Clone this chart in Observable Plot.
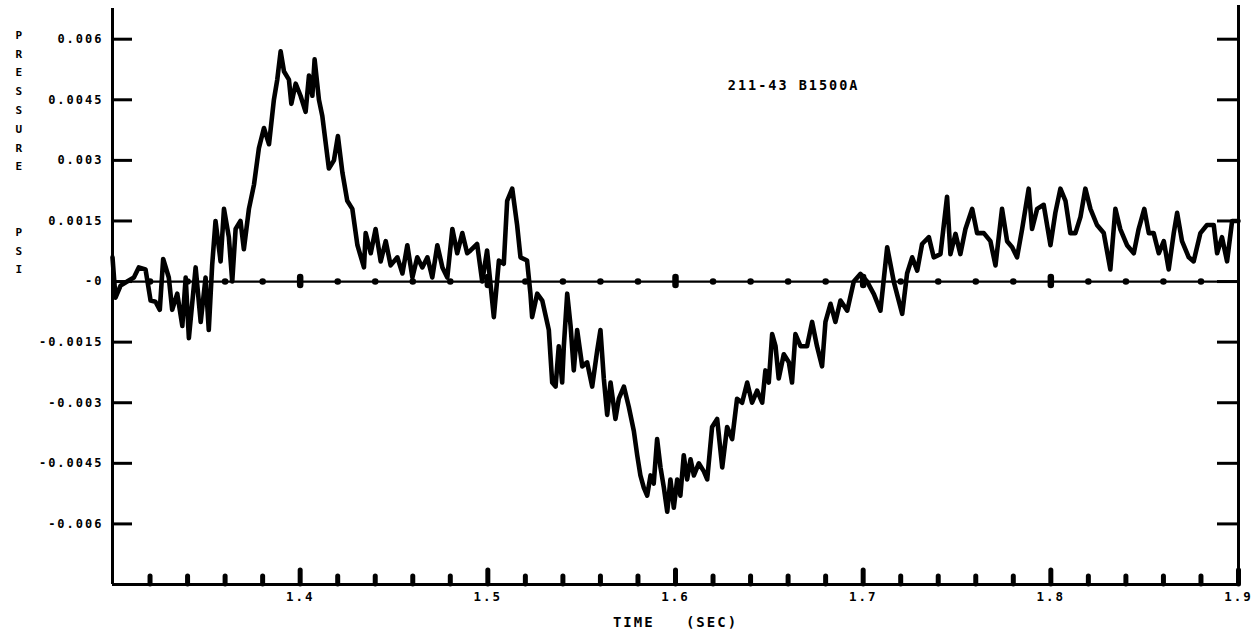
<!DOCTYPE html>
<html>
<head>
<meta charset="utf-8">
<script src="https://cdn.jsdelivr.net/npm/d3@7"></script>
<script src="https://cdn.jsdelivr.net/npm/@observablehq/plot@0.6"></script>
<style>
  html, body { margin: 0; padding: 0; background: #fff; }
  #chart svg { display: block; }
  #chart svg text { letter-spacing: 2px; }
</style>
</head>
<body>
<div id="chart"></div>
<script>
// ---- data ----
const timeSec = [
  1.3000,1.3016,1.3043,1.3078,1.3114,1.3140,1.3176,1.3203,1.3229,1.3252,1.3270,1.3300,1.3318,1.3345,1.3372,1.3390,
  1.3407,1.3443,1.3470,1.3496,1.3513,1.3531,1.3549,1.3576,1.3594,1.3620,1.3638,1.3656,1.3682,1.3700,1.3727,1.3754,
  1.3780,1.3807,1.3834,1.3860,1.3878,1.3896,1.3914,1.3940,1.3953,1.3976,1.4002,1.4029,1.4047,1.4065,1.4077,1.4100,
  1.4118,1.4153,1.4180,1.4201,1.4225,1.4251,1.4278,1.4305,1.4340,1.4349,1.4376,1.4402,1.4429,1.4456,1.4482,1.4518,
  1.4545,1.4571,1.4598,1.4624,1.4651,1.4678,1.4704,1.4731,1.4758,1.4784,1.4811,1.4837,1.4864,1.4890,
  1.4908,1.4943,1.4970,1.4996,1.5032,1.5059,1.5085,1.5103,1.5130,1.5156,1.5174,1.5209,1.5227,1.5236,1.5263,1.5290,
  1.5325,1.5343,1.5361,1.5378,1.5396,1.5405,1.5423,1.5441,1.5458,1.5476,1.5503,1.5529,1.5556,1.5583,1.5600,1.5618,
  1.5636,1.5654,1.5680,1.5698,1.5725,1.5751,1.5778,1.5796,1.5813,1.5831,1.5849,1.5867,1.5884,1.5902,1.5920,1.5938,
  1.5956,1.5973,1.5991,1.6009,1.6026,1.6044,1.6062,1.6080,1.6098,1.6124,1.6151,1.6169,1.6195,1.6222,1.6249,1.6275,
  1.6302,1.6328,1.6355,1.6382,1.6408,1.6435,1.6462,1.6479,1.6497,1.6515,1.6533,1.6550,1.6577,1.6604,1.6621,1.6639,
  1.6666,1.6701,1.6728,1.6754,1.6781,1.6799,1.6826,1.6852,
  1.6879,1.6915,1.6950,1.6986,1.7021,1.7057,1.7092,1.7128,1.7163,1.7208,1.7234,1.7261,1.7288,1.7314,1.7350,1.7376,
  1.7412,1.7447,1.7465,1.7492,1.7518,1.7545,1.7581,1.7607,1.7643,1.7678,1.7705,1.7740,1.7767,1.7794,1.7820,1.7847,
  1.7882,1.7900,1.7927,1.7962,1.7998,1.8024,1.8051,1.8078,1.8104,1.8131,1.8158,1.8184,1.8211,1.8246,1.8282,1.8317,
  1.8344,1.8370,1.8406,1.8442,1.8468,1.8498,1.8522,1.8548,1.8575,1.8602,1.8628,1.8655,1.8673,1.8699,1.8735,1.8761,
  1.8797,1.8832,1.8868,1.8886,1.8912,1.8939,1.8966,1.8983,1.9000
];
const pressurePsi = [
  0.0006,-0.0004,-0.0001,0.0000,0.0001,0.00035,0.0003,-0.00047,-0.0005,-0.0007,0.00056,0.0001,-0.0007,-0.0003,-0.0011,0.0001,
  -0.0014,0.00035,-0.0010,0.0001,-0.0012,0.0004,0.0015,0.0005,0.0018,0.0011,0.0000,0.0013,0.0015,0.0008,0.0018,0.0024,
  0.0033,0.0038,0.0034,0.0045,0.0050,0.0057,0.0052,0.0050,0.0044,0.0049,0.0046,0.0042,0.0051,0.0046,0.0055,0.0045,
  0.0041,0.0028,0.0030,0.0036,0.0027,0.0020,0.0018,0.0009,0.00035,0.0012,0.0007,0.0013,0.0005,0.0010,0.0004,0.0006,
  0.0002,0.0009,0.0001,0.0006,0.00035,0.0006,0.0001,0.0009,0.00035,0.0001,0.0013,0.0007,0.0012,0.0007,
  0.00077,0.00093,0.0000,0.00077,-0.00088,0.00052,0.00044,0.0020,0.0023,0.0014,0.0006,0.00052,-0.0003,-0.00088,-0.0003,-0.00047,
  -0.0012,-0.0025,-0.0026,-0.0016,-0.0025,-0.0016,-0.0003,-0.0011,-0.0022,-0.0012,-0.0021,-0.0020,-0.0026,-0.0017,-0.0012,-0.0024,
  -0.0033,-0.0025,-0.0034,-0.0029,-0.0026,-0.0031,-0.0037,-0.0043,-0.0048,-0.0051,-0.0053,-0.0048,-0.0050,-0.0039,-0.0046,-0.0051,
  -0.0057,-0.0049,-0.0056,-0.0049,-0.0053,-0.0043,-0.0049,-0.0044,-0.0048,-0.0045,-0.0047,-0.0049,-0.0036,-0.0034,-0.0046,-0.0036,
  -0.0039,-0.0029,-0.0030,-0.0025,-0.0030,-0.0027,-0.0030,-0.0022,-0.0025,-0.0013,-0.0016,-0.0024,-0.0018,-0.0020,-0.0025,-0.0013,
  -0.0016,-0.0016,-0.0010,-0.0016,-0.0021,-0.0010,-0.00055,-0.0010,
  -0.00047,-0.00072,0.0000,0.00019,0.0000,-0.00031,-0.00072,0.00085,0.0000,-0.0008,0.0002,0.0006,0.00027,0.00093,0.0011,0.0006,
  0.00068,0.0021,0.00068,0.00118,0.00068,0.0013,0.0018,0.0012,0.0012,0.0010,0.0004,0.0018,0.0010,0.00085,0.0006,0.0013,
  0.0023,0.0013,0.0018,0.0019,0.0009,0.0017,0.0023,0.0020,0.0012,0.0012,0.0016,0.0023,0.0018,0.0014,0.0012,0.0003,
  0.0018,0.0013,0.0009,0.0007,0.0013,0.0018,0.0012,0.0012,0.0007,0.0010,0.0003,0.0012,0.0017,0.0010,0.0006,0.0005,
  0.0012,0.0014,0.0014,0.0007,0.0011,0.0005,0.0015,0.0015,0.0015
];

const xDomain = [1.3, 1.9];
const yDomain = [-0.0075, 0.00676];

const xMajorTicks = [1.4, 1.5, 1.6, 1.7, 1.8, 1.9];
const xTickLabels = ["1.4", "1.5", "1.6", "1.7", "1.8", "1.9"];
const xMinorTicks = [1.32,1.34,1.36,1.38,1.42,1.44,1.46,1.48,1.52,1.54,1.56,1.58,1.62,1.64,1.66,1.68,1.72,1.74,1.76,1.78,1.82,1.84,1.86,1.88];
const zeroMajorMarks = [1.4, 1.5, 1.6, 1.7, 1.8];

const yTicks = [0.006, 0.0045, 0.003, 0.0015, 0, -0.0015, -0.003, -0.0045, -0.006];
const yTickLabels = ["0.006", "0.0045", "0.003", "0.0015", "-0", "-0.0015", "-0.003", "-0.0045", "-0.006"];

const titleText = "211-43 B1500A";
const xLabelText = "TIME   (SEC)";
const yLabelWord1 = "PRESSURE";
const yLabelWord2 = "PSI";

// ---- build ----
const trace = timeSec.map((t, i) => ({t, p: pressurePsi[i]}));
const xLabelMap = new Map(xMajorTicks.map((d, i) => [d, xTickLabels[i]]));
const yLabelMap = new Map(yTicks.map((d, i) => [d, yTickLabels[i]]));

const W = 1254, H = 636;
const mL = 112, mR = 16, mT = 8, mB = 52;
const innerW = W - mL - mR, innerH = H - mT - mB;
const font = "'DejaVu Sans Mono', monospace";

const chart = Plot.plot({
  width: W,
  height: H,
  marginLeft: mL,
  marginRight: mR,
  marginTop: mT,
  marginBottom: mB,
  x: {domain: xDomain},
  y: {domain: yDomain},
  style: {fontFamily: font, fontWeight: "bold", fontSize: "12px", color: "black", background: "white"},
  marks: [
    // frame: left, right, bottom
    Plot.ruleX([xDomain[0]], {stroke: "black", strokeWidth: 3}),
    Plot.ruleX([xDomain[1]], {stroke: "black", strokeWidth: 3, insetTop: -3}),
    Plot.ruleY([yDomain[0]], {stroke: "black", strokeWidth: 3}),
    // inward y ticks on both sides
    Plot.ruleY(yTicks, {stroke: "black", strokeWidth: 3, insetRight: innerW - 20}),
    Plot.ruleY(yTicks, {stroke: "black", strokeWidth: 3, insetLeft: innerW - 21}),
    // bottom ticks (bumps)
    Plot.ruleX(xMinorTicks, {stroke: "black", strokeWidth: 5, strokeLinecap: "round", insetTop: innerH - 8}),
    Plot.ruleX(xMajorTicks, {stroke: "black", strokeWidth: 5, strokeLinecap: "round", insetTop: innerH - 14}),
    // zero line with markers
    Plot.ruleY([0], {stroke: "black", strokeWidth: 2.2}),
    Plot.dot(xMinorTicks, {x: d => d, y: () => 0, r: 3.3, fill: "black", stroke: null}),
    Plot.ruleX(zeroMajorMarks, {y1: () => 0, y2: () => 0, insetTop: -4, insetBottom: -4, stroke: "black", strokeWidth: 6.5, strokeLinecap: "round"}),
    // the pressure trace
    Plot.line(trace, {x: "t", y: "p", stroke: "black", strokeWidth: 4.6, strokeLinejoin: "round", strokeLinecap: "round"}),
    // axes labels
    Plot.axisY(yTicks, {anchor: "left", label: null, tickSize: 0, tickPadding: 9, tickFormat: d => yLabelMap.get(d), fontFamily: font, fontWeight: "bold", fontSize: 12}),
    Plot.axisX(xMajorTicks, {anchor: "bottom", label: null, tickSize: 0, tickPadding: 8, tickFormat: d => xLabelMap.get(d), fontFamily: font, fontWeight: "bold", fontSize: 12.5, dx: 0}),
    Plot.text([xLabelText], {frameAnchor: "bottom", dy: 38, fontFamily: font, fontWeight: "bold", fontSize: 14, lineAnchor: "middle"}),
    Plot.text([yLabelWord1.split("").join("\n")], {frameAnchor: "top-left", dx: -97, dy: 90, lineAnchor: "middle", lineHeight: 1.71, fontFamily: font, fontWeight: "bold", fontSize: 11}),
    Plot.text([yLabelWord2.split("").join("\n")], {frameAnchor: "top-left", dx: -97, dy: 240, lineAnchor: "middle", lineHeight: 1.71, fontFamily: font, fontWeight: "bold", fontSize: 11}),
    Plot.text([titleText], {frameAnchor: "top-right", dx: -379, dy: 77, textAnchor: "end", lineAnchor: "middle", fontFamily: font, fontWeight: "bold", fontSize: 13.5})
  ]
});
document.getElementById("chart").appendChild(chart);
</script>
</body>
</html>
